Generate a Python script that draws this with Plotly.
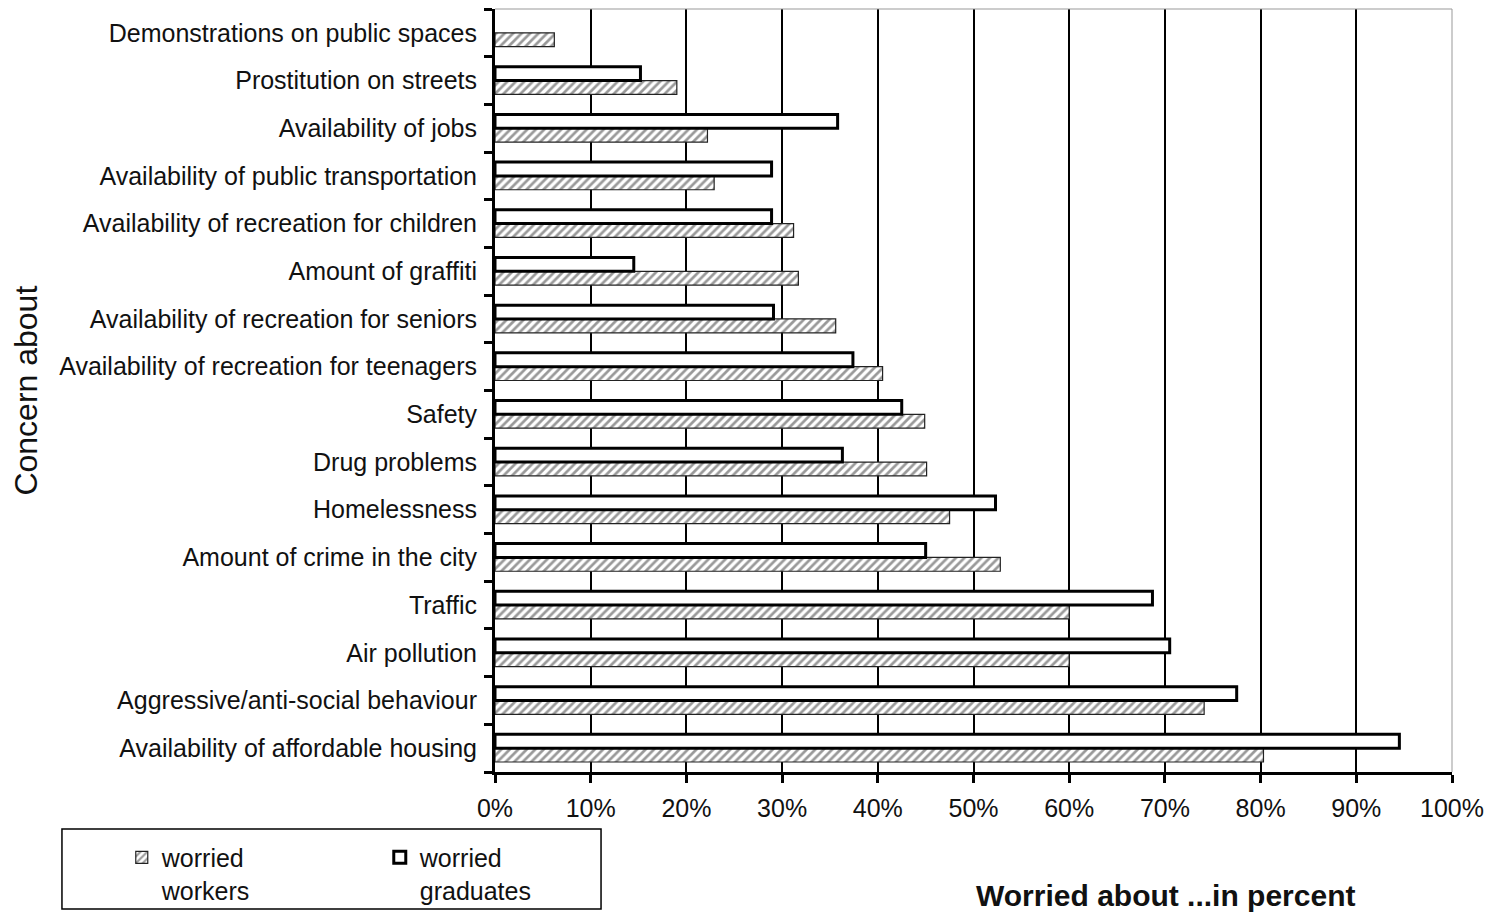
import plotly.graph_objects as go

# Concerns, listed from the bottom of the chart to the top
categories = [
    "Availability of affordable housing",
    "Aggressive/anti-social behaviour",
    "Air pollution",
    "Traffic",
    "Amount of crime in the city",
    "Homelessness",
    "Drug problems",
    "Safety",
    "Availability of recreation for teenagers",
    "Availability of recreation for seniors",
    "Amount of graffiti",
    "Availability of recreation for children",
    "Availability of public transportation",
    "Availability of jobs",
    "Prostitution on streets",
    "Demonstrations on public spaces",
]

# Share worried, in percent
workers = [80.3, 74.1, 60.0, 60.0, 52.8, 47.5, 45.1, 44.9, 40.5, 35.6, 31.7, 31.2, 22.9, 22.2, 19.0, 6.2]
graduates = [94.5, 77.5, 70.5, 68.7, 45.0, 52.3, 36.3, 42.5, 37.4, 29.1, 14.5, 28.9, 28.9, 35.8, 15.2, None]

x_ticks = [0, 10, 20, 30, 40, 50, 60, 70, 80, 90, 100]
x_tick_text = [f"{v}%" for v in x_ticks]

FONT = "Liberation Sans, Arial, sans-serif"

fig = go.Figure()

fig.add_trace(go.Bar(
    y=categories,
    x=workers,
    orientation="h",
    name="worried<br>workers",
    marker=dict(
        color="white",
        line=dict(color="#222222", width=1.2),
        pattern=dict(shape="/", fgcolor="#333333", bgcolor="white", size=6, solidity=0.45),
    ),
))

fig.add_trace(go.Bar(
    y=categories,
    x=graduates,
    orientation="h",
    name="worried<br>graduates",
    marker=dict(color="white", line=dict(color="black", width=3)),
))

fig.update_layout(
    width=1494,
    height=914,
    margin=dict(l=495, r=42, t=9, b=142, autoexpand=False),
    paper_bgcolor="white",
    plot_bgcolor="white",
    barmode="group",
    bargap=0.42,
    bargroupgap=0,
    font=dict(family=FONT, size=25, color="#111111"),
    showlegend=True,
    legend=dict(
        orientation="h",
        x=-0.39,
        xanchor="left",
        y=-0.082,
        yanchor="top",
        valign="top",
        entrywidth=213,
        font=dict(family=FONT, size=25, color="#111111"),
        bgcolor="rgba(0,0,0,0)",
        borderwidth=0,
        traceorder="normal",
    ),
    xaxis=dict(
        range=[0, 100],
        tickvals=x_ticks,
        ticktext=x_tick_text,
        showgrid=True,
        gridcolor="black",
        gridwidth=1.6,
        zeroline=False,
        showline=True,
        linecolor="black",
        linewidth=3,
        ticks="outside",
        ticklen=8,
        tickwidth=3,
        tickcolor="black",
        ticklabelstandoff=4,
        tickfont=dict(family=FONT, size=25, color="#111111"),
    ),
    yaxis=dict(
        type="category",
        categoryorder="array",
        categoryarray=categories,
        showgrid=False,
        zeroline=False,
        showline=True,
        linecolor="black",
        linewidth=3,
        ticks="outside",
        tickson="boundaries",
        ticklen=8,
        tickwidth=3,
        tickcolor="black",
        ticklabelstandoff=10,
        tickfont=dict(family=FONT, size=25, color="#111111"),
    ),
    shapes=[
        # thin frame on the top and right of the plotting area
        dict(type="line", xref="paper", yref="paper", x0=0, x1=1, y0=1, y1=1,
             line=dict(color="#999999", width=1)),
        dict(type="line", xref="paper", yref="paper", x0=1, x1=1, y0=0, y1=1,
             line=dict(color="#999999", width=1)),
        # box around the legend
        dict(type="rect", xref="paper", yref="paper",
             x0=-0.4525, x1=0.1108, y0=-0.1796, y1=-0.0747,
             line=dict(color="black", width=1.5), fillcolor="rgba(0,0,0,0)"),
    ],
    annotations=[
        dict(text="Concern about", xref="paper", yref="paper", x=-0.491, y=0.5,
             textangle=-90, showarrow=False, xanchor="center", yanchor="middle",
             font=dict(family=FONT, size=32, color="#111111")),
        dict(text="<b>Worried about ...in percent</b>", xref="paper", yref="paper",
             x=0.701, y=-0.162, showarrow=False, xanchor="center", yanchor="middle",
             font=dict(family=FONT, size=30, color="#111111")),
    ],
)

fig.write_html("out.html")
